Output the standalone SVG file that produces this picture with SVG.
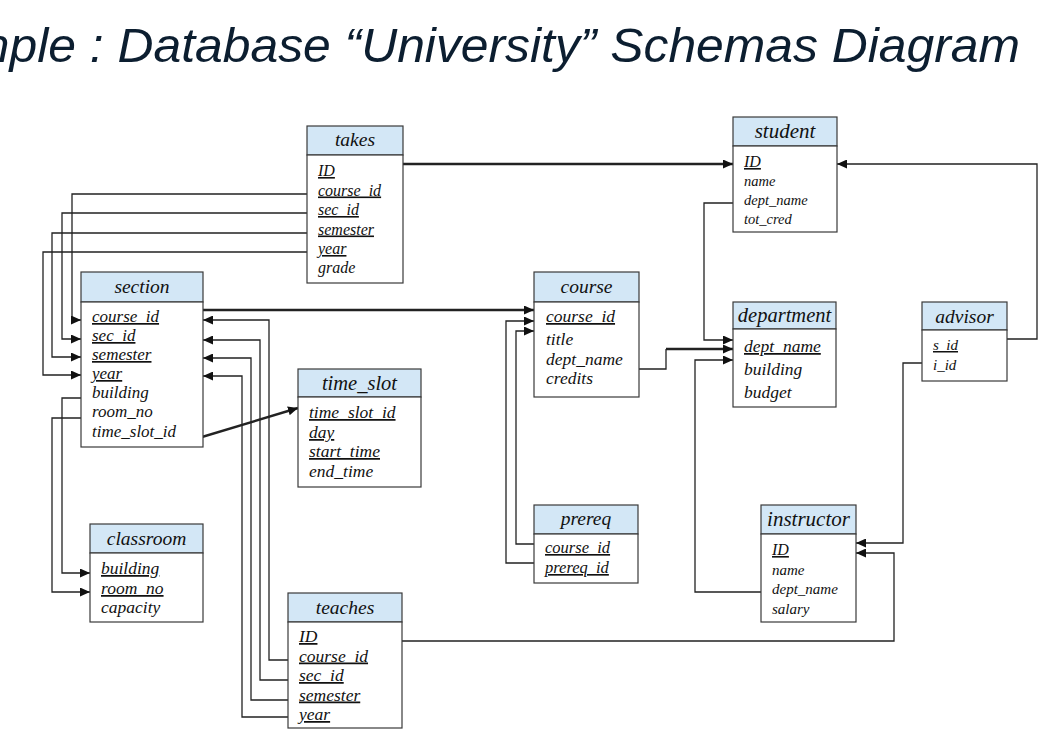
<svg xmlns="http://www.w3.org/2000/svg" width="1058" height="733" viewBox="0 0 1058 733">
<style>
.bg{fill:#ffffff}
.hd{fill:#d3e7f6;stroke:#3a3a3a;stroke-width:1.2}
.bd{fill:#ffffff;stroke:#3a3a3a;stroke-width:1.2}
.t{font-family:"Liberation Serif","DejaVu Serif",serif;font-style:italic;fill:#111}
.h{text-anchor:middle;font-size:19.5px}
.u{text-decoration:underline}
.c{fill:none;stroke:#222;stroke-width:1.3}
.k{stroke-width:2.4}
.title{font-family:"Liberation Sans",Arial,sans-serif;font-style:italic;font-size:48px;fill:#0c1e30}
</style>
<defs>
<marker id="a" markerWidth="10" markerHeight="9" refX="10" refY="4.5" orient="auto" markerUnits="userSpaceOnUse">
<path d="M0,0 L10,4.5 L0,9 Z" fill="#111"/>
</marker>
</defs>
<rect class="bg" x="0" y="0" width="1058" height="733"/>
<text class="title" x="-32" y="62" textLength="1052" lengthAdjust="spacingAndGlyphs">mple : Database “University” Schemas Diagram</text>

<g id="connectors">
<path class="c k" d="M403,164 H733" marker-end="url(#a)"/>
<path class="c" d="M1007,339 H1037 V164 H837" marker-end="url(#a)"/>
<path class="c" d="M307,194 H72 V320 H81" marker-end="url(#a)"/>
<path class="c" d="M307,213 H62 V339 H81" marker-end="url(#a)"/>
<path class="c" d="M307,233 H52 V357 H81" marker-end="url(#a)"/>
<path class="c" d="M307,252 H43 V375 H81" marker-end="url(#a)"/>
<path class="c k" d="M203,310 H534" marker-end="url(#a)"/>
<path class="c k" d="M192,440 L298,408" marker-end="url(#a)"/>
<path class="c" d="M81,398 H62 V573 H90" marker-end="url(#a)"/>
<path class="c" d="M81,418 H52 V592 H90" marker-end="url(#a)"/>
<path class="c" d="M288,660 H269 V320 H203" marker-end="url(#a)"/>
<path class="c" d="M288,680 H260 V340 H203" marker-end="url(#a)"/>
<path class="c" d="M288,700 H251 V358 H203" marker-end="url(#a)"/>
<path class="c" d="M288,717 H242 V376 H203" marker-end="url(#a)"/>
<path class="c" d="M402,641 H894 V553 H856" marker-end="url(#a)"/>
<path class="c" d="M922,363 H903 V543 H856" marker-end="url(#a)"/>
<path class="c" d="M534,544 H516 V331 H534" marker-end="url(#a)"/>
<path class="c" d="M534,563 H506 V321 H534" marker-end="url(#a)"/>
<path class="c" d="M733,203 H704 V340 H733" marker-end="url(#a)"/>
<path class="c" d="M639,369 H666 V349" />
<path class="c k" d="M666,349 H733" marker-end="url(#a)"/>
<path class="c" d="M761,592 H695 V360 H733" marker-end="url(#a)"/>
</g>

<g id="takes">
<rect class="hd" x="307" y="126" width="96" height="29"/>
<rect class="bd" x="307" y="155" width="96" height="128"/>
<text class="t h" x="355" y="146">takes</text>
<g class="t" font-size="16">
<text class="u" x="318" y="176">ID</text>
<text class="u" x="318" y="195.5">course_id</text>
<text class="u" x="318" y="215">sec_id</text>
<text class="u" x="318" y="234.5">semester</text>
<text class="u" x="318" y="254">year</text>
<text x="318" y="273">grade</text>
</g>
</g>

<g id="student">
<rect class="hd" x="733" y="117" width="104" height="29"/>
<rect class="bd" x="733" y="146" width="104" height="86"/>
<text class="t h" x="785" y="138" style="font-size:21px">student</text>
<text class="t u" x="744" y="167" font-size="16">ID</text>
<g class="t" font-size="14.5">
<text x="744" y="186">name</text>
<text x="744" y="205">dept_name</text>
<text x="744" y="224">tot_cred</text>
</g>
</g>

<g id="section">
<rect class="hd" x="81" y="272" width="122" height="30"/>
<rect class="bd" x="81" y="302" width="122" height="145"/>
<text class="t h" x="142" y="293">section</text>
<g class="t" font-size="17">
<text class="u" x="92" y="322">course_id</text>
<text class="u" x="92" y="341">sec_id</text>
<text class="u" x="92" y="360">semester</text>
<text class="u" x="92" y="379">year</text>
<text x="92" y="398">building</text>
<text x="92" y="417">room_no</text>
<text x="92" y="437">time_slot_id</text>
</g>
</g>

<g id="time_slot">
<rect class="hd" x="298" y="369" width="123" height="28"/>
<rect class="bd" x="298" y="397" width="123" height="90"/>
<text class="t h" x="359.5" y="390" style="font-size:20.5px">time_slot</text>
<g class="t" font-size="17.5">
<text class="u" x="309" y="418">time_slot_id</text>
<text class="u" x="309" y="438">day</text>
<text class="u" x="309" y="457">start_time</text>
<text x="309" y="477">end_time</text>
</g>
</g>

<g id="classroom">
<rect class="hd" x="90" y="524" width="113" height="29"/>
<rect class="bd" x="90" y="553" width="113" height="69"/>
<text class="t h" x="146.5" y="545">classroom</text>
<g class="t" font-size="17.5">
<text class="u" x="101" y="574">building</text>
<text class="u" x="101" y="594">room_no</text>
<text x="101" y="613">capacity</text>
</g>
</g>

<g id="teaches">
<rect class="hd" x="288" y="593" width="114" height="29"/>
<rect class="bd" x="288" y="622" width="114" height="106"/>
<text class="t h" x="345" y="614">teaches</text>
<g class="t" font-size="17.5">
<text class="u" x="299" y="642">ID</text>
<text class="u" x="299" y="661.5">course_id</text>
<text class="u" x="299" y="681">sec_id</text>
<text class="u" x="299" y="700.5">semester</text>
<text class="u" x="299" y="720">year</text>
</g>
</g>

<g id="course">
<rect class="hd" x="534" y="272" width="105" height="30"/>
<rect class="bd" x="534" y="302" width="105" height="95"/>
<text class="t h" x="586.5" y="293">course</text>
<g class="t" font-size="17.5">
<text class="u" x="546" y="322">course_id</text>
<text x="546" y="345">title</text>
<text x="546" y="365">dept_name</text>
<text x="546" y="384">credits</text>
</g>
</g>

<g id="department">
<rect class="hd" x="733" y="302" width="103" height="27"/>
<rect class="bd" x="733" y="329" width="103" height="78"/>
<text class="t h" x="784.5" y="322" style="font-size:20.5px">department</text>
<g class="t" font-size="17.5">
<text class="u" x="744" y="352">dept_name</text>
<text x="744" y="375">building</text>
<text x="744" y="398">budget</text>
</g>
</g>

<g id="advisor">
<rect class="hd" x="922" y="302" width="85" height="28"/>
<rect class="bd" x="922" y="330" width="85" height="51"/>
<text class="t h" x="964.5" y="323">advisor</text>
<g class="t" font-size="15">
<text class="u" x="933" y="350">s_id</text>
<text x="933" y="370">i_id</text>
</g>
</g>

<g id="prereq">
<rect class="hd" x="534" y="505" width="104" height="29"/>
<rect class="bd" x="534" y="534" width="104" height="49"/>
<text class="t h" x="586" y="525">prereq</text>
<g class="t" font-size="16.5">
<text class="u" x="545" y="553">course_id</text>
<text class="u" x="545" y="573">prereq_id</text>
</g>
</g>

<g id="instructor">
<rect class="hd" x="761" y="505" width="95" height="29"/>
<rect class="bd" x="761" y="534" width="95" height="88"/>
<text class="t h" x="808.5" y="526" style="font-size:21px">instructor</text>
<text class="t u" x="772" y="555" font-size="16">ID</text>
<g class="t" font-size="15">
<text x="772" y="575">name</text>
<text x="772" y="594">dept_name</text>
<text x="772" y="614">salary</text>
</g>
</g>
</svg>
